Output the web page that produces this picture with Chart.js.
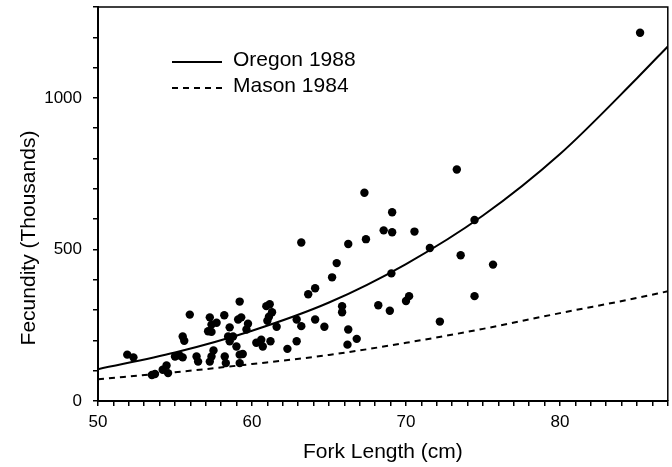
<!DOCTYPE html>
<html>
<head>
<meta charset="utf-8">
<script src="https://cdn.jsdelivr.net/npm/chart.js@4/dist/chart.umd.min.js"></script>
<style>
  html, body { margin: 0; padding: 0; background: #fff; }
  #wrap { width: 672px; height: 467px; position: relative; }
</style>
</head>
<body>
<div id="wrap"><canvas id="chart"></canvas></div>
<script>
// Fish fecundity vs fork length

// observed fish (fork length cm, fecundity thousands)
const fishLength = [
  51.9, 52.3, 53.5, 53.7, 54.2, 54.45, 54.55, 55.0, 55.3, 55.5,
  55.5, 55.6, 55.96, 56.4, 56.5, 57.15, 57.37, 57.26, 57.37, 57.7,
  57.37, 57.26, 58.2, 58.23, 58.3, 58.55, 58.45, 58.77, 58.55, 58.99,
  59.2, 59.1, 59.3, 59.74, 59.64, 59.2, 59.4, 59.2, 60.28, 60.7,
  60.6, 60.93, 61.15, 61.0, 61.1, 61.3, 61.6, 61.2, 62.3, 62.9,
  63.2, 62.9, 63.2, 63.65, 64.1, 64.1, 64.7, 65.2, 65.5, 65.85,
  65.85, 66.25, 66.25, 66.2, 66.8, 67.3, 67.4, 68.2, 68.55, 68.95,
  69.05, 69.1, 69.1, 70.0, 70.2, 70.55, 71.55, 72.2, 73.3, 73.55,
  74.45, 74.45, 75.65, 85.2, 57.5
];
const fishFecundity = [
  153, 144, 86, 89, 103, 117, 92, 147, 150, 144,
  213, 199, 285, 147, 130, 230, 228, 276, 252, 258,
  147, 130, 283, 147, 125, 243, 213, 213, 197, 180,
  328, 269, 276, 255, 236, 153, 155, 125, 192, 180,
  202, 313, 319, 265, 278, 293, 245, 197, 172, 269,
  247, 197, 523, 352, 372, 269, 245, 408, 455, 313,
  293, 518, 236, 186, 205, 687, 534, 316, 563, 298,
  421, 623, 557, 330, 346, 559, 505, 262, 764, 481,
  597, 346, 450, 1215, 167
];

// fitted curves
const curveLength = [50, 55, 60, 65, 70, 75, 80, 85, 87];
const oregon1988 = [105, 160, 232, 325, 452, 612, 815, 1065, 1170];
const mason1984 = [72, 95, 122, 152, 192, 238, 290, 340, 362];

const xLabels = [50, 60, 70, 80];
const yLabels = [0, 500, 1000];

const toXY = (xs, ys) => xs.map((x, i) => ({ x: x, y: ys[i] }));

const FONT = '"Liberation Sans", Arial, Helvetica, sans-serif';

// frame, legend and rotated y title
const extras = {
  id: 'extras',
  afterDraw(chart) {
    const { ctx, chartArea: a } = chart;
    ctx.save();
    ctx.strokeStyle = '#000';
    ctx.lineWidth = 1.5;
    ctx.beginPath();
    ctx.moveTo(a.left, a.top);
    ctx.lineTo(a.right, a.top);
    ctx.lineTo(a.right, a.bottom);
    ctx.stroke();

    // legend
    const items = [chart.data.datasets[1], chart.data.datasets[2]];
    const rows = [62, 88];
    ctx.font = '21px ' + FONT;
    ctx.textBaseline = 'middle';
    ctx.fillStyle = '#000';
    items.forEach((ds, i) => {
      ctx.lineWidth = ds.borderWidth;
      ctx.setLineDash(ds.borderDash || []);
      ctx.beginPath();
      ctx.moveTo(172, rows[i]);
      ctx.lineTo(222, rows[i]);
      ctx.stroke();
      ctx.setLineDash([]);
      ctx.fillText(ds.label, 233, rows[i] - 2);
    });

    // y title
    ctx.translate(29, 238);
    ctx.rotate(-Math.PI / 2);
    ctx.textAlign = 'center';
    ctx.fillText('Fecundity (Thousands)', 0, 0);
    ctx.restore();
  }
};

new Chart(document.getElementById('chart'), {
  type: 'scatter',
  data: {
    datasets: [
      {
        label: 'Fish',
        data: toXY(fishLength, fishFecundity),
        pointRadius: 4.2,
        pointHoverRadius: 4.2,
        pointBackgroundColor: '#000',
        pointBorderColor: '#000',
        pointBorderWidth: 0
      },
      {
        label: 'Oregon 1988',
        data: toXY(curveLength, oregon1988),
        showLine: true,
        borderColor: '#000',
        borderWidth: 2,
        pointRadius: 0,
        cubicInterpolationMode: 'monotone'
      },
      {
        label: 'Mason 1984',
        data: toXY(curveLength, mason1984),
        showLine: true,
        borderColor: '#000',
        borderWidth: 2,
        borderDash: [6, 5],
        pointRadius: 0,
        cubicInterpolationMode: 'monotone'
      }
    ]
  },
  options: {
    responsive: true,
    maintainAspectRatio: false,
    animation: false,
    layout: { padding: { top: 7, right: 4, left: 0, bottom: 0 } },
    plugins: { legend: { display: false }, tooltip: { enabled: false } },
    scales: {
      x: {
        type: 'linear',
        min: 50,
        max: 87,
        afterFit: s => { s.height = 66; s.paddingLeft = 0; s.paddingRight = 0; },
        ticks: {
          stepSize: 1,
          autoSkip: false,
          maxRotation: 0,
          padding: 6,
          color: '#000',
          font: { family: FONT, size: 17 },
          callback: v => xLabels.includes(v) ? v : ''
        },
        grid: { drawOnChartArea: false, tickLength: 5, color: '#000', lineWidth: 1.5 },
        border: { color: '#000', width: 2 },
        title: {
          display: true,
          text: 'Fork Length (cm)',
          color: '#000',
          font: { family: FONT, size: 21 },
          padding: { top: 0, bottom: 2 }
        }
      },
      y: {
        min: 0,
        max: 1300,
        afterFit: s => { s.width = 98; s.paddingTop = 0; s.paddingBottom = 0; },
        ticks: {
          stepSize: 100,
          autoSkip: false,
          padding: 11,
          color: '#000',
          font: { family: FONT, size: 17 },
          callback: v => yLabels.includes(v) ? v : ''
        },
        grid: { drawOnChartArea: false, tickLength: 5, color: '#000', lineWidth: 1.5 },
        border: { color: '#000', width: 2 }
      }
    }
  },
  plugins: [extras]
});
</script>
</body>
</html>
